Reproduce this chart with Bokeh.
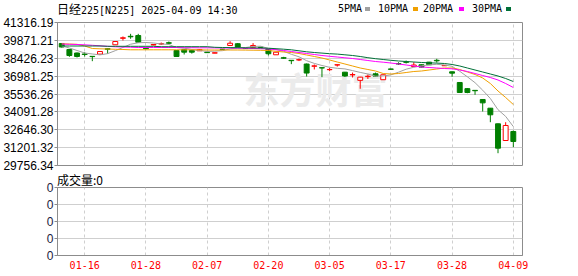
from bokeh.plotting import figure
from bokeh.layouts import column
from bokeh.models import FixedTicker, Label, Range1d, ColumnDataSource, PrintfTickFormatter, Div
from bokeh.embed import file_html
from bokeh.resources import INLINE

dates = ["01-10", "01-14", "01-15", "01-16", "01-17", "01-20", "01-21", "01-22", "01-23", "01-24",
         "01-27", "01-28", "01-29", "01-30", "01-31", "02-03", "02-04", "02-05", "02-06", "02-07",
         "02-10", "02-12", "02-13", "02-14", "02-17", "02-18", "02-19", "02-20", "02-21", "02-25",
         "02-26", "02-27", "02-28", "03-03", "03-04", "03-05", "03-06", "03-07", "03-10", "03-11",
         "03-12", "03-13", "03-14", "03-17", "03-18", "03-19", "03-21", "03-24", "03-25", "03-26",
         "03-27", "03-28", "03-31", "04-01", "04-02", "04-03", "04-04", "04-07", "04-08", "04-09"]

opens = [39619, 39134, 38850, 38770, 38580, 38760, 39200, 39514, 40040, 40200,
         40265, 39250, 39500, 39580, 39680, 39053, 39134, 39053, 39030, 38920,
         38840, 39160, 39457, 39600, 39230, 39320, 39320, 39190, 38706, 38470,
         38260, 38290, 37960, 37780, 37660, 37500, 37880, 37300, 37080, 36640,
         36940, 37170, 36690, 37560, 38000, 38130, 37760, 37900, 38110, 38260,
         37820, 37330, 36466, 35970, 35830, 35092, 34390, 33126, 31777, 32505]
highs = [39659, 39174, 38891, 38916, 38600, 38990, 39214, 39800, 40190, 40400,
         40400, 39300, 39560, 39700, 39780, 39080, 39150, 39134, 39150, 38950,
         38880, 39180, 39805, 39660, 39260, 39650, 39340, 39210, 38930, 38540,
         38270, 38400, 38000, 37920, 37680, 37640, 37910, 37320, 37270, 36920,
         37110, 37270, 37100, 37580, 38100, 38240, 38110, 37920, 38130, 38380,
         37880, 37360, 36500, 36010, 35840, 35110, 34400, 33150, 33256, 32590]
lows = [39295, 38540, 38487, 38568, 38190, 38740, 38790, 39500, 39860, 40000,
        39700, 39150, 39480, 39500, 39560, 38540, 38729, 38800, 39010, 38850,
        38830, 39110, 39440, 39260, 39190, 39300, 39280, 38650, 38690, 38380,
        37950, 38200, 36950, 37520, 36900, 37380, 37750, 36910, 36870, 35960,
        36750, 36950, 36680, 37500, 37880, 38000, 37740, 37690, 37880, 38080,
        37800, 36930, 35620, 35600, 35470, 34121, 33256, 30750, 31760, 31240]
closes = [39335, 38648, 38568, 38730, 38560, 38972, 39150, 39780, 40080, 40160,
          39724, 39200, 39540, 39600, 39640, 38568, 38918, 38918, 39134, 38880,
          38870, 39134, 39640, 39320, 39210, 39457, 39300, 38790, 38916, 38430,
          38230, 38310, 37230, 37810, 37640, 37520, 37900, 36990, 37110, 36900,
          36970, 36980, 37090, 37530, 37960, 38100, 37880, 37710, 37900, 38220,
          37850, 37220, 35657, 35657, 35800, 34820, 33855, 31155, 32990, 31697]

ma5 = [39416, 39255, 39053, 38850, 38770, 38700, 38800, 39040, 39300, 39560,
       39680, 39700, 39660, 39580, 39540, 39295, 39240, 39134, 39053, 38980,
       39000, 39040, 39190, 39250, 39290, 39380, 39400, 39214, 39134, 38988,
       38745, 38543, 38228, 38010, 37840, 37695, 37614, 37565, 37428, 37282,
       37153, 36975, 36991, 37080, 37298, 37541, 37695, 37816, 37889, 37937,
       37880, 37775, 37371, 36926, 36450, 35843, 35172, 34267, 33725, 32901]
ma10 = [39594, 39578, 39554, 39416, 39214, 39190, 39174, 39150, 39134, 39109,
        39109, 39109, 39109, 39109, 39109, 39109, 39109, 39109, 39109, 39093,
        39093, 39093, 39093, 39093, 39085, 39077, 39069, 39053, 38988, 38931,
        38891, 38810, 38689, 38568, 38446, 38285, 38123, 37961, 37800, 37638,
        37517, 37395, 37193, 37153, 37193, 37274, 37355, 37395, 37476, 37557,
        37638, 37638, 37517, 37315, 37112, 36830, 36385, 35779, 35253, 34687]
ma20 = [39578, 39554, 39538, 39513, 39473, 39433, 39392, 39352, 39336, 39319,
        39295, 39295, 39295, 39295, 39295, 39295, 39279, 39279, 39271, 39271,
        39263, 39255, 39255, 39247, 39231, 39214, 39198, 39174, 39117, 39053,
        38972, 38891, 38810, 38729, 38648, 38584, 38527, 38463, 38406, 38325,
        38244, 38163, 38107, 38042, 37961, 37880, 37800, 37719, 37678, 37638,
        37597, 37573, 37476, 37355, 37193, 37031, 36870, 36668, 36385, 36061]
ma30 = [39416, 39416, 39416, 39416, 39416, 39416, 39392, 39392, 39392, 39392,
        39392, 39392, 39392, 39360, 39360, 39360, 39360, 39360, 39360, 39360,
        39311, 39295, 39287, 39279, 39271, 39263, 39255, 39239, 39198, 39158,
        39109, 39028, 38947, 38891, 38842, 38794, 38762, 38705, 38648, 38568,
        38471, 38390, 38325, 38260, 38204, 38163, 38123, 38083, 38058, 38034,
        38002, 37921, 37800, 37638, 37476, 37315, 37153, 36991, 36789, 36546]

price_ticks = [29756.34, 31201.32, 32646.30, 34091.28, 35536.26, 36981.25, 38426.23, 39871.21, 41316.19]
date_tick_idx = [3, 11, 19, 27, 35, 43, 51, 59]
vol_ticks = [0, 1, 2, 3, 4]
title_cjk = "日经"
title_rest = "225[N225] 2025-04-09 14:30"
vol_title = "成交量:0"
ma_names = ["5PMA", "10PMA", "20PMA", "30PMA"]
ma_colors = ["#a0a0a0", "#f0a000", "#ff00ff", "#007038"]

UP = "#ff0000"
DOWN = "#007f00"
GRID = "#cfcfcf"
BORDER = "#8c8c8c"
MONO = "DejaVu Sans Mono"

n = len(closes)
idx = list(range(n))
up = [i for i in idx if closes[i] >= opens[i]]
dn = [i for i in idx if closes[i] < opens[i]]

def src(ids):
    return ColumnDataSource(dict(
        x=ids,
        high=[highs[i] for i in ids], low=[lows[i] for i in ids],
        top=[max(opens[i], closes[i]) for i in ids],
        bottom=[min(opens[i], closes[i]) for i in ids]))

up_src, dn_src = src(up), src(dn)

# ---------------- header (HTML text) ----------------
leg_left = [338, 378, 423, 472]
sq_left = [365, 413, 459, 506]
spans = ['<span style="position:absolute;left:57px;top:3px;line-height:12px;white-space:nowrap;'
         'font-family:\'DejaVu Sans Mono\',\'Noto Sans CJK SC\',monospace;font-size:10px;color:#000">'
         '<span style="font-family:\'Noto Sans CJK SC\';font-size:12px">%s</span>%s</span>' % (title_cjk, title_rest)]
for name, col, lx, sx in zip(ma_names, ma_colors, leg_left, sq_left):
    spans.append('<span style="position:absolute;left:%dpx;top:3px;line-height:12px;white-space:nowrap;'
                 'font-family:\'DejaVu Sans Mono\',monospace;font-size:10px;color:#000">%s</span>' % (lx, name))
    spans.append('<span style="position:absolute;left:%dpx;top:7px;width:5px;height:4px;'
                 'background:%s"></span>' % (sx, col))
header = Div(text='<div style="position:relative;width:578px;height:14px">%s</div>' % "".join(spans),
             width=578, height=14, margin=(0, 0, 0, 0))

x_range = Range1d(-0.55, 60.2)

# ---------------- main price panel ----------------
p = figure(width=578, height=158, x_range=x_range,
           y_range=Range1d(price_ticks[0], price_ticks[-1]),
           output_backend="svg", toolbar_location=None,
           min_border_left=56, min_border_right=56, min_border_top=8, min_border_bottom=7)
p.border_fill_alpha = 0
p.xaxis.visible = False
p.outline_line_color = BORDER
p.outline_line_width = 1
p.yaxis.ticker = FixedTicker(ticks=price_ticks)
p.yaxis.formatter = PrintfTickFormatter(format="%.2f")
p.yaxis.major_label_text_font = "Liberation Sans"
p.yaxis.major_label_text_font_size = "12px"
p.yaxis.major_label_text_color = "#000000"
p.yaxis.axis_line_color = BORDER
p.yaxis.major_tick_line_color = BORDER
p.yaxis.major_tick_out = 3
p.yaxis.major_tick_in = 0
p.yaxis.minor_tick_line_color = None
p.yaxis.major_label_standoff = 1
p.ygrid.grid_line_color = GRID
p.xgrid.ticker = FixedTicker(ticks=date_tick_idx)
p.xgrid.grid_line_color = GRID
p.xgrid.grid_line_dash = "3 3"

# watermark
p.add_layout(Label(x=186, y=78, x_units="screen", y_units="screen", text="东方财富",
                   text_font="Noto Sans CJK SC", text_font_size="36px", text_font_style="bold",
                   text_color="#ebebeb", text_baseline="middle", level="underlay"))

# candles
p.segment(x0="x", y0="low", x1="x", y1="high", source=dn_src, line_color=DOWN, line_width=1)
p.segment(x0="x", y0="low", x1="x", y1="high", source=up_src, line_color=UP, line_width=1)
p.vbar(x="x", width=0.64, top="top", bottom="bottom", source=dn_src,
       fill_color=DOWN, line_color=DOWN, line_width=1)
p.vbar(x="x", width=0.64, top="top", bottom="bottom", source=up_src,
       fill_color="#ffffff", line_color=UP, line_width=1)

for vals, col in zip([ma5, ma10, ma20, ma30], ma_colors):
    p.line(idx, vals, line_color=col, line_width=1)

# ---------------- volume title (HTML text) ----------------
vol_head = Div(text='<div style="position:relative;width:578px;height:10px">'
                    '<span style="position:absolute;left:57px;top:0px;line-height:12px;white-space:nowrap;'
                    'font-family:\'Noto Sans CJK SC\';font-size:12px;color:#000">%s</span></div>' % vol_title,
               width=578, height=10, margin=(0, 0, 0, 0))

# ---------------- volume panel ----------------
pv = figure(width=578, height=94, x_range=x_range, y_range=Range1d(vol_ticks[0], vol_ticks[-1]),
            output_backend="svg", toolbar_location=None,
            min_border_left=56, min_border_right=56, min_border_top=5, min_border_bottom=21)
pv.border_fill_alpha = 0
pv.outline_line_color = BORDER
pv.yaxis.ticker = FixedTicker(ticks=vol_ticks)
pv.yaxis.major_label_overrides = {t: "0" for t in vol_ticks}
pv.yaxis.major_label_text_font = "Liberation Sans"
pv.yaxis.major_label_text_font_size = "12px"
pv.yaxis.major_label_text_color = "#1a1a40"
pv.yaxis.axis_line_color = BORDER
pv.yaxis.major_tick_line_color = BORDER
pv.yaxis.major_tick_out = 3
pv.yaxis.major_tick_in = 0
pv.yaxis.minor_tick_line_color = None
pv.yaxis.major_label_standoff = 1
pv.xaxis.ticker = FixedTicker(ticks=date_tick_idx)
pv.xaxis.major_label_overrides = {i: dates[i] for i in date_tick_idx}
pv.xaxis.major_label_text_font = MONO
pv.xaxis.major_label_text_font_size = "10px"
pv.xaxis.major_label_text_color = "#ff0000"
pv.xaxis.axis_line_color = BORDER
pv.xaxis.major_tick_line_color = None
pv.xaxis.major_tick_out = 0
pv.xaxis.major_tick_in = 0
pv.xaxis.minor_tick_line_color = None
pv.xaxis.major_label_standoff = 5
pv.ygrid.grid_line_color = GRID
pv.xgrid.grid_line_color = GRID
pv.xgrid.grid_line_dash = "3 3"

layout = column(header, p, vol_head, pv, spacing=0)
open("out.html", "w").write(file_html(layout, INLINE))
